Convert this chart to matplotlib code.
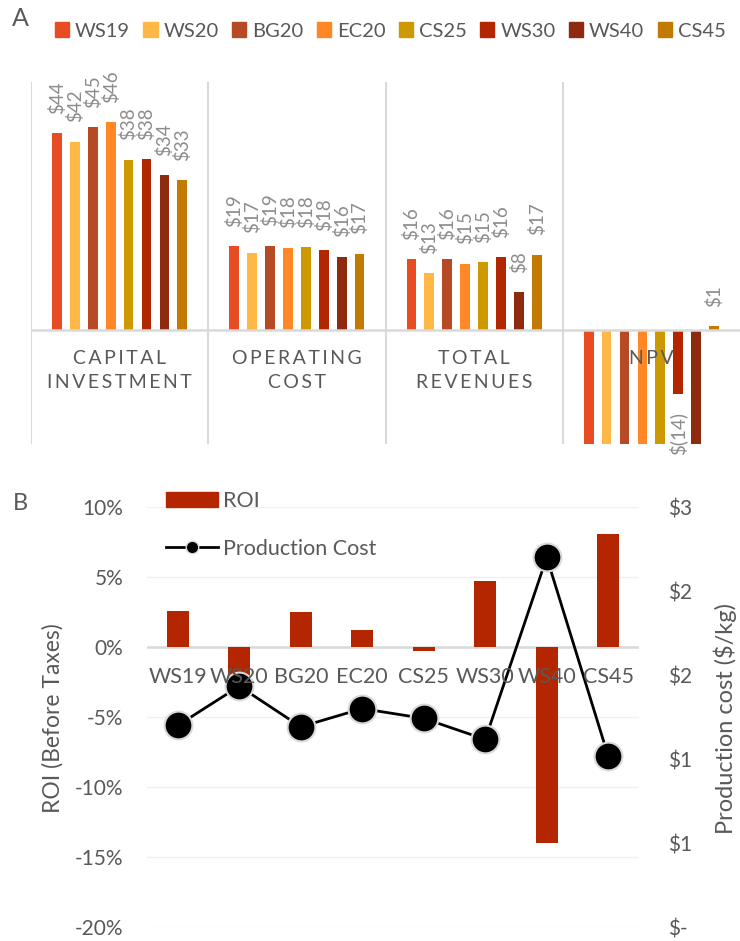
import matplotlib
matplotlib.use("Agg")
import matplotlib.pyplot as plt
from matplotlib.patches import Patch
from matplotlib.lines import Line2D
import numpy as np

plt.rcParams['font.family'] = ['Lato', 'DejaVu Sans']

# scenarios and their colours
cases = ["WS19", "WS20", "BG20", "EC20", "CS25", "WS30", "WS40", "CS45"]
colors = ["#E84C22", "#FFB845", "#B54A25", "#FF8726",
          "#CC9900", "#B32700", "#8E2A10", "#C27A00"]

# panel A: economics, $ million
metrics = [["CAPITAL", "INVESTMENT"], ["OPERATING", "COST"],
           ["TOTAL", "REVENUES"], ["NPV"]]
capital = [43.7, 41.8, 45.0, 46.2, 37.8, 37.9, 34.4, 33.3]
operating = [18.6, 17.2, 18.7, 18.3, 18.4, 17.7, 16.3, 17.0]
revenues = [15.8, 12.6, 15.8, 14.7, 15.1, 16.2, 8.4, 16.7]
npv = [-31, -34, -32, -33, -36, -14.1, -40, 0.9]

# panel B: ROI (%) and production cost ($/kg)
roi = [2.57, -2.6, 2.53, 1.24, -0.3, 4.7, -14.0, 8.1]
prod_cost = [1.44, 1.72, 1.43, 1.56, 1.49, 1.34, 2.64, 1.22]
roi_ticks = [-20, -15, -10, -5, 0, 5, 10]
cost_ticks = [0, 0.6, 1.2, 1.8, 2.4, 3.0]
cost_ticklabels = ["$-", "$1", "$1", "$2", "$2", "$3"]

GRAY = "#595959"
LIGHT = "#d9d9d9"
W, H = 740, 941


def box(l, t, r, b):
    return [l / W, 1 - b / H, (r - l) / W, (b - t) / H]


def money(v):
    r = int(round(v))
    return f"$({abs(r)})" if r < 0 else f"${r}"


fig = plt.figure(figsize=(W / 100, H / 100), dpi=100)

# ---------------- panel A ----------------
axA = fig.add_axes(box(31, 82, 740, 444))
ylo, yhi = -25.3, 55.1
values = [capital, operating, revenues, npv]
pitch, width = 0.101, 0.055
x = np.arange(len(metrics))
for j, case in enumerate(cases):
    vals = [v[j] for v in values]
    pos = x + (j - 3.5) * pitch
    axA.bar(pos, vals, width, color=colors[j], zorder=2)
    for p, v in zip(pos, vals):
        if v < ylo:
            continue
        up = v >= 0
        axA.annotate(money(v), (p, v), xytext=(0, 14 if up else -13),
                     textcoords="offset points", rotation=90, ha="center",
                     va="bottom" if up else "top", fontsize=13.5,
                     color="#8c8c8c", annotation_clip=False)

for b in [-0.5, 0.5, 1.5, 2.5]:
    axA.axvline(b, color=LIGHT, lw=1.5, zorder=1)
axA.axhline(0, color=LIGHT, lw=1.8, zorder=3)
for i, words in enumerate(metrics):
    # letter-spaced caps with thin spaces
    txt = "\n".join("\u2009".join(w) for w in words)
    axA.annotate(txt, (i, 0), xytext=(0, -14.5), textcoords="offset points",
                 ha="center", va="top", fontsize=14, color=GRAY,
                 linespacing=1.45, zorder=5)
axA.set_xlim(-0.5, 3.5)
axA.set_ylim(ylo, yhi)
axA.axis("off")

handles = [Patch(color=c) for c in colors]
fig.legend(handles, cases, loc="center left",
           bbox_to_anchor=(55 / W, 1 - 31 / H), ncol=8, frameon=False,
           fontsize=14.5, handlelength=0.7, handleheight=0.7,
           handletextpad=0.3, columnspacing=0.66, borderpad=0,
           borderaxespad=0, labelcolor=GRAY)
fig.text(20 / W, 1 - 19 / H, "A", fontsize=18, color=GRAY,
         ha="center", va="center")

# ---------------- panel B ----------------
axB = fig.add_axes(box(147, 507, 639, 927))
xb = np.arange(len(cases))
axB.bar(xb, roi, 0.36, color="#B32600", zorder=2)
axB.set_xlim(-0.5, 7.5)
axB.set_ylim(-20, 10)
axB.set_yticks(roi_ticks)
axB.set_yticklabels([f"{t}%" for t in roi_ticks])
axB.grid(axis="y", color="#f0f0f0", lw=1)
axB.set_axisbelow(True)
axB.axhline(0, color=LIGHT, lw=1.8, zorder=1)
axB.set_xticks([])
axB.tick_params(axis="y", length=0, pad=17, labelsize=15, labelcolor=GRAY)
for s in axB.spines.values():
    s.set_visible(False)

axC = axB.twinx()
axC.plot(xb, prod_cost, color="black", lw=2, marker="o", ms=20,
         mfc="black", mec=LIGHT, mew=1.5, zorder=3)
axC.set_ylim(0, 3)
axC.set_yticks(cost_ticks)
axC.set_yticklabels(cost_ticklabels)
axC.tick_params(axis="y", length=0, pad=21, labelsize=15, labelcolor=GRAY)
for s in axC.spines.values():
    s.set_visible(False)

for i, c in enumerate(cases):
    axC.annotate(c, (i, 0), xycoords=axB.transData, xytext=(0, -21.5),
                 textcoords="offset points", ha="center", va="center",
                 fontsize=15.5, color=GRAY, zorder=6)

legB = [Patch(color="#B32600"),
        Line2D([], [], color="black", lw=2, marker="o", ms=9,
               mfc="black", mec=LIGHT, mew=1)]
axC.legend(legB, ["ROI", "Production Cost"], loc="upper left",
           bbox_to_anchor=(166 / W, 1 - 491 / H),
           bbox_transform=fig.transFigure, frameon=False, fontsize=15.5,
           handlelength=2.42, handleheight=0.7, handletextpad=0.23,
           labelspacing=1.3, borderpad=0, borderaxespad=0, labelcolor=GRAY)

fig.text(53 / W, 1 - 718 / H, "ROI (Before Taxes)", rotation=90,
         fontsize=16.5, color=GRAY, ha="center", va="center")
fig.text(725 / W, 1 - 718 / H, "Production cost ($/kg)", rotation=90,
         fontsize=17, color=GRAY, ha="center", va="center")
fig.text(20 / W, 1 - 503 / H, "B", fontsize=17, color=GRAY,
         ha="center", va="center")

fig.savefig("out.png", dpi=100)
